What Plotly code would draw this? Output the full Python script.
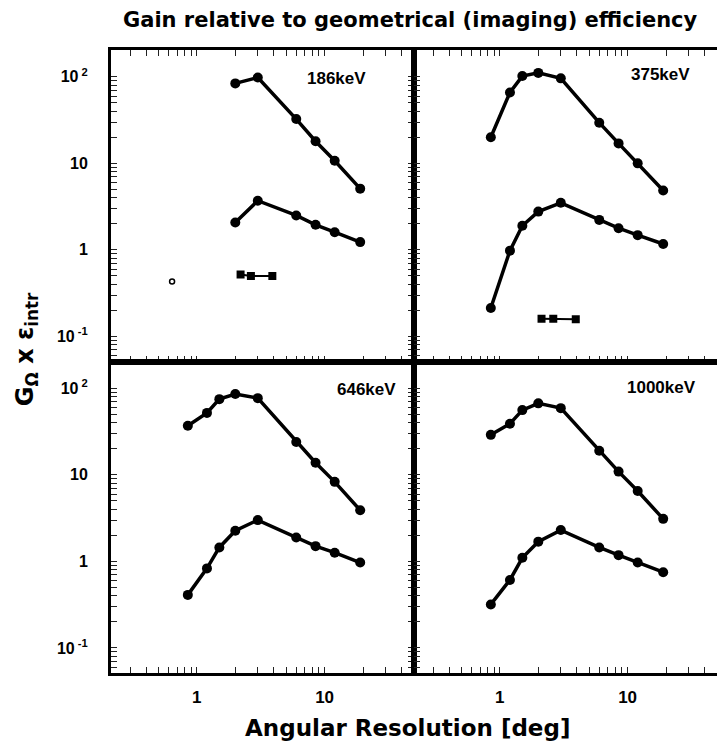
import plotly.graph_objects as go
from plotly.subplots import make_subplots

# Angular resolution grid (deg)
ang_res = [0.85, 1.2, 1.5, 2.0, 3.0, 6.0, 8.5, 12.0, 19.0]

# 186 keV (only the coarser resolutions are available)
ang_186 = [2.0, 3.0, 6.0, 8.5, 12.0, 19.0]
upper_186 = [84, 98, 32.5, 18, 10.7, 5.1]
lower_186 = [2.07, 3.7, 2.5, 1.95, 1.6, 1.23]
sq_x_186 = [2.2, 2.65, 3.9]
sq_y_186 = [0.52, 0.5, 0.5]
pt_x_186 = [0.64]
pt_y_186 = [0.43]

# 375 keV
upper_375 = [20, 66, 102, 111, 96, 29.5, 17, 10, 4.85]
lower_375 = [0.213, 0.98, 1.9, 2.77, 3.5, 2.22, 1.78, 1.48, 1.17]
sq_x_375 = [2.12, 2.62, 3.93]
sq_y_375 = [0.16, 0.16, 0.158]

# 646 keV
upper_646 = [37, 52, 75, 86, 77, 24, 13.8, 8.3, 3.9]
lower_646 = [0.41, 0.83, 1.45, 2.26, 3.0, 1.89, 1.5, 1.26, 0.97]

# 1000 keV
upper_1000 = [29, 39, 56, 67, 59, 19, 10.9, 6.5, 3.1]
lower_1000 = [0.318, 0.61, 1.1, 1.69, 2.3, 1.45, 1.18, 0.97, 0.75]

panel_labels = ["186keV", "375keV", "646keV", "1000keV"]
y_decades = [0.1, 1, 10, 100]
y_decade_text = ["10<sup> -1</sup>", "1", "10", "10<sup> 2</sup>"]
x_decades = [1, 10]
x_decade_text = ["1", "10"]


def log_ticks(decades, labels, exponents):
    """Decade ticks with labels plus unlabelled 2..9 ticks in each decade."""
    vals, text = list(decades), list(labels)
    for e in exponents:
        for m in range(2, 10):
            vals.append(m * 10.0 ** e)
            text.append("")
    return vals, text


y_tickvals, y_ticktext = log_ticks(y_decades, y_decade_text, (-2, -1, 0, 1, 2))
x_tickvals, x_ticktext = log_ticks(x_decades, x_decade_text, (-1, 0, 1))

BOLD = "Liberation Sans"
HEAVY = "DejaVu Sans"

fig = make_subplots(rows=2, cols=2, horizontal_spacing=0, vertical_spacing=0)


def curve(x, y, row, col):
    fig.add_trace(go.Scatter(
        x=x, y=y, mode="lines+markers",
        line=dict(color="black", width=3.5),
        marker=dict(color="black", size=10, symbol="circle"),
        showlegend=False), row=row, col=col)


def squares(x, y, row, col):
    fig.add_trace(go.Scatter(
        x=x, y=y, mode="lines+markers",
        line=dict(color="black", width=2),
        marker=dict(color="black", size=8, symbol="square"),
        showlegend=False), row=row, col=col)


curve(ang_186, upper_186, 1, 1)
curve(ang_186, lower_186, 1, 1)
squares(sq_x_186, sq_y_186, 1, 1)
fig.add_trace(go.Scatter(
    x=pt_x_186, y=pt_y_186, mode="markers",
    marker=dict(color="black", size=5, symbol="circle-open", line=dict(width=1.5)),
    showlegend=False), row=1, col=1)

curve(ang_res, upper_375, 1, 2)
curve(ang_res, lower_375, 1, 2)
squares(sq_x_375, sq_y_375, 1, 2)

curve(ang_res, upper_646, 2, 1)
curve(ang_res, lower_646, 2, 1)

curve(ang_res, upper_1000, 2, 2)
curve(ang_res, lower_1000, 2, 2)

x_range = [-0.672, 1.70]
y_range = [-1.29, 2.31]

for row in (1, 2):
    for col in (1, 2):
        fig.update_xaxes(
            type="log", range=x_range,
            showline=True, linecolor="black", linewidth=3,
            mirror="allticks" if row == 1 else True,
            ticks="inside", ticklen=6, tickwidth=1, tickcolor="#222",
            tickmode="array", tickvals=x_tickvals, ticktext=x_ticktext,
            showticklabels=(row == 2),
            tickfont=dict(family=BOLD, size=17, color="black", weight="bold"),
            ticklabelstandoff=7,
            showgrid=False, zeroline=False,
            row=row, col=col)
        fig.update_yaxes(
            type="log", range=y_range,
            showline=True, linecolor="black", linewidth=3,
            mirror="allticks" if col == 1 else False,
            ticks="inside", ticklen=6, tickwidth=1, tickcolor="#222",
            tickmode="array", tickvals=y_tickvals, ticktext=y_ticktext,
            showticklabels=(col == 1),
            tickfont=dict(family=BOLD, size=16, color="black", weight="bold"),
            ticklabelstandoff=17,
            showgrid=False, zeroline=False,
            row=row, col=col)

# energy labels in the upper right corner of each panel
label_pos = [(1, 1, 0.848, 0.91), (1, 2, 0.917, 0.92), (2, 1, 0.947, 0.91), (2, 2, 0.937, 0.915)]
for text, (row, col, xf, yf) in zip(panel_labels, label_pos):
    idx = (row - 1) * 2 + col
    suffix = "" if idx == 1 else str(idx)
    fig.add_annotation(
        text=text, xref=f"x{suffix} domain", yref=f"y{suffix} domain",
        x=xf, y=yf, xanchor="right", yanchor="middle", showarrow=False,
        font=dict(family=BOLD, size=17, color="black", weight="bold"))

fig.add_annotation(
    text="G<sub>Ω</sub> x ε<sub>intr</sub>", xref="paper", yref="paper",
    x=-0.14, y=0.52, xanchor="center", yanchor="middle", textangle=-90,
    showarrow=False, font=dict(family=HEAVY, size=24, color="black", weight="bold"))

fig.update_layout(
    width=717, height=743,
    margin=dict(l=111, r=0, t=50, b=70),
    paper_bgcolor="white", plot_bgcolor="white",
    title=dict(text="Gain relative to geometrical (imaging) efficiency",
               x=0.572, xanchor="center", y=0.973, yanchor="middle",
               font=dict(family=HEAVY, size=21, color="black", weight="bold")),
    showlegend=False,
)
fig.add_annotation(
    text="Angular Resolution [deg]", xref="paper", yref="paper",
    x=0.49, y=-0.089, xanchor="center", yanchor="middle", showarrow=False,
    font=dict(family=HEAVY, size=23, color="black", weight="bold"))

fig.write_html("out.html")
